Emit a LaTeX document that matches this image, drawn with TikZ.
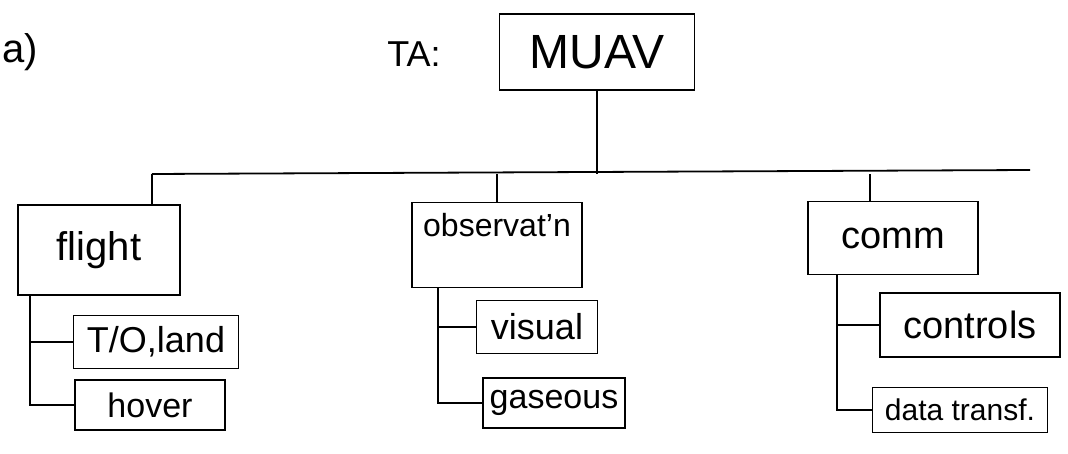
\documentclass[tikz,border=0pt]{standalone}
\usepackage{fontspec}
\setmainfont{Liberation Sans}
\begin{document}
\begin{tikzpicture}[x=1pt,y=-1pt,
  fs/.style={font=\fontsize{#1}{#1}\selectfont},
  box/.style={draw,line width=1.8pt,inner sep=0pt,align=center},
  conn/.style={line width=1.8pt}]
\useasboundingbox (0,0) rectangle (1068,454);
% labels
\node[fs=40,anchor=west,inner sep=0pt] (lbl) at (2,52) {a)};
\node[fs=36] (ta) at (414,54) {TA:};
% root
\node[box,fs=48,minimum width=195,minimum height=76] (muav) at (597,52) {MUAV};
% level 1
\node[box,fs=40,minimum width=162,minimum height=90] (flight) at (99,250) {flight};
\node[box,fs=32,minimum width=170,minimum height=85,text depth=40pt] (obs) at (497,245) {observat'n};
\node[box,fs=38,minimum width=170,minimum height=73] (comm) at (893,238) {comm};
% level 2
\node[box,fs=36,minimum width=165,minimum height=53] (tol) at (156,342) {T/O,land};
\node[box,fs=34,minimum width=150,minimum height=50] (hov) at (150,405) {hover};
\node[box,fs=36,minimum width=121,minimum height=53] (vis) at (537,327) {visual};
\node[box,fs=34,minimum width=142,minimum height=50] (gas) at (554,403) {gaseous};
\node[box,fs=38,minimum width=180,minimum height=64] (ctl) at (970,325) {controls};
\node[box,fs=30,minimum width=175,minimum height=45] (dat) at (960,410) {data transf.};
% bus
\coordinate (busL) at (152,174);
\coordinate (busR) at (1030,170);
\coordinate (fx) at (30,0);
\coordinate (ox) at (438,0);
\coordinate (cx) at (837,0);
\coordinate (ctick) at (870,0);
\draw[conn] (busL) -- (busR);
\draw[conn] (muav.south) -- (muav.south |- busL);
\draw[conn] (busL) -- (busL |- flight.north);
\draw[conn] (obs.north) -- (obs.north |- busL);
\draw[conn] (comm.north -| ctick) -- (ctick |- busL);
% children connectors
\draw[conn] (flight.south -| fx) |- (tol.west);
\draw[conn] (flight.south -| fx) |- (hov.west);
\draw[conn] (obs.south -| ox) |- (vis.west);
\draw[conn] (obs.south -| ox) |- (gas.west);
\draw[conn] (comm.south -| cx) |- (ctl.west);
\draw[conn] (comm.south -| cx) |- (dat.west);
\end{tikzpicture}
\end{document}
